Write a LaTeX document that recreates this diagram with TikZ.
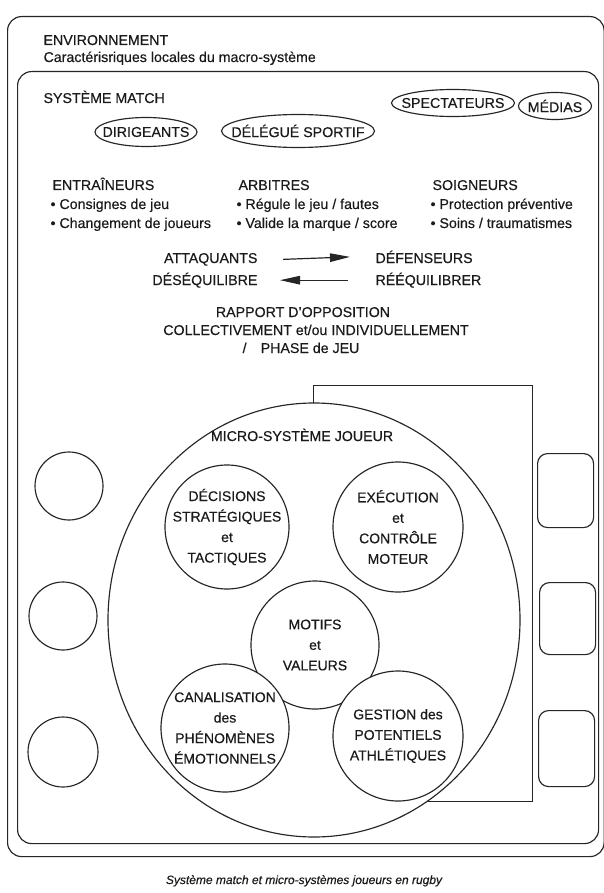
\documentclass[tikz,border=0pt]{standalone}
\usepackage{fontspec}
\setmainfont{Liberation Sans}[FakeBold=0.4]
\usetikzlibrary{arrows.meta,shapes.geometric}
\definecolor{ink}{HTML}{1A1A1A}
\definecolor{lc}{HTML}{262626}
\begin{document}
\begin{tikzpicture}[x=1pt,y=-1pt,line width=1.15pt,color=lc,
  lbl/.style={font=\fontsize{14.2}{17}\selectfont,inner sep=0pt,text=ink},
  ctext/.style={lbl,align=center,font=\fontsize{14}{20.5}\selectfont},
  frame/.style={draw,rounded corners=14pt,inner sep=0pt,anchor=north west},
  roundc/.style={draw,circle,inner sep=0pt,fill=white},
  sidebox/.style={draw,rounded corners=10pt,inner sep=0pt,anchor=north west},
  arr/.style={-{Triangle[length=20pt,width=8.5pt]},line width=1.2pt}]
\useasboundingbox (0,0) rectangle (604,893);
\fill[white] (0,0) rectangle (604,893);
% frames
\node[frame,minimum width=596.5pt,minimum height=840pt] (env) at (7,16) {};
\node[frame,minimum width=581pt,minimum height=772pt] (match) at (17,71) {};
% environment texts
\node[lbl,anchor=base west] (envt) at (43,45) {ENVIRONNEMENT};
\node[lbl,anchor=base west] (envs) at (43,62) {Caractérisriques locales du macro-système};
\node[lbl,anchor=base west] (matcht) at (43,103) {SYSTÈME MATCH};
% ovals
\node[lbl] (spect) at (453,103) {SPECTATEURS};
\draw (spect) ellipse [x radius=61.5pt,y radius=13.5pt];
\node[lbl] (medias) at (555,106) {MÉDIAS};
\draw (medias) ellipse [x radius=36.5pt,y radius=13.5pt];
\node[lbl] (dirig) at (146,132) {DIRIGEANTS};
\draw (dirig) ellipse [x radius=51pt,y radius=14.5pt];
\node[lbl] (deleg) at (298,131) {DÉLÉGUÉ SPORTIF};
\draw (deleg) ellipse [x radius=76.5pt,y radius=16.5pt];
% three columns
\node[lbl,anchor=base west] (entr) at (52,190) {ENTRAÎNEURS};
\node[lbl,anchor=base west] (entr1) at (50,209) {• Consignes de jeu};
\node[lbl,anchor=base west] (entr2) at (50,228) {• Changement de joueurs};
\node[lbl,anchor=base west] (arb) at (238,190) {ARBITRES};
\node[lbl,anchor=base west] (arb1) at (236,209) {• Régule le jeu / fautes};
\node[lbl,anchor=base west] (arb2) at (236,228) {• Valide la marque / score};
\node[lbl,anchor=base west] (soi) at (432,190) {SOIGNEURS};
\node[lbl,anchor=base west] (soi1) at (430,209) {• Protection préventive};
\node[lbl,anchor=base west] (soi2) at (430,228) {• Soins / traumatismes};
% opposition
\node[lbl,anchor=base east] (att) at (258,263) {ATTAQUANTS};
\node[lbl,anchor=base east] (des) at (258,285) {DÉSÉQUILIBRE};
\node[lbl,anchor=base west] (def) at (375,263) {DÉFENSEURS};
\node[lbl,anchor=base west] (ree) at (375,285) {RÉÉQUILIBRER};
\draw[arr] ([xshift=25pt]att.east) -- ([xshift=-25pt]def.west);
\draw[arr] ([xshift=-27pt]ree.west) -- ([xshift=22pt]des.east);
\node[lbl,anchor=base] (rap1) at (303,317) {RAPPORT D'OPPOSITION};
\node[lbl,anchor=base] (rap2) at (316,335) {COLLECTIVEMENT et/ou INDIVIDUELLEMENT};
\node[lbl,anchor=base] (rap3) at (301,353) {/\quad PHASE de JEU};
% micro-system
\node[draw,fill=white,inner sep=0pt,anchor=north west,minimum width=219pt,minimum height=416pt] (mrect) at (313,385) {};
\node[draw,fill=white,ellipse,inner sep=0pt,minimum width=412pt,minimum height=434pt] (micro) at (314,620) {};
\node[lbl,anchor=base] (microt) at (302,441) {MICRO-SYSTÈME JOUEUR};
\node[roundc,minimum size=124pt] (decC) at (227,527) {};
\node[ctext] (dec) at (decC) {DÉCISIONS\\STRATÉGIQUES\\et\\TACTIQUES};
\node[roundc,minimum size=130pt] (exeC) at (398,527) {};
\node[ctext] (exe) at (exeC) {EXÉCUTION\\et\\CONTRÔLE\\MOTEUR};
\node[roundc,minimum size=128pt] (motC) at (315,645) {};
\node[ctext] (mot) at (motC) {MOTIFS\\et\\VALEURS};
\node[roundc,minimum size=128pt] (canC) at (225,728) {};
\node[ctext] (can) at (canC) {CANALISATION\\des\\PHÉNOMÈNES\\ÉMOTIONNELS};
\node[roundc,minimum size=130pt] (gesC) at (398,736) {};
\node[ctext] (ges) at (gesC) {GESTION des\\POTENTIELS\\ATHLÉTIQUES};
% left circles
\node[roundc,minimum size=68pt] (lc1) at (69,486) {};
\node[roundc,minimum size=68pt] (lc2) at (63,616) {};
\node[roundc,minimum size=70pt] (lc3) at (63,752) {};
% right boxes
\node[sidebox,minimum width=56pt,minimum height=74pt] (rb1) at (537,453) {};
\node[sidebox,minimum width=56pt,minimum height=72pt] (rb2) at (539,582) {};
\node[sidebox,minimum width=56pt,minimum height=76pt] (rb3) at (538,710) {};
% caption
\node[lbl,anchor=base,font=\fontsize{12}{15}\selectfont\itshape] (cap) at (304,884) {Système match et micro-systèmes joueurs en rugby};
\end{tikzpicture}
\end{document}
